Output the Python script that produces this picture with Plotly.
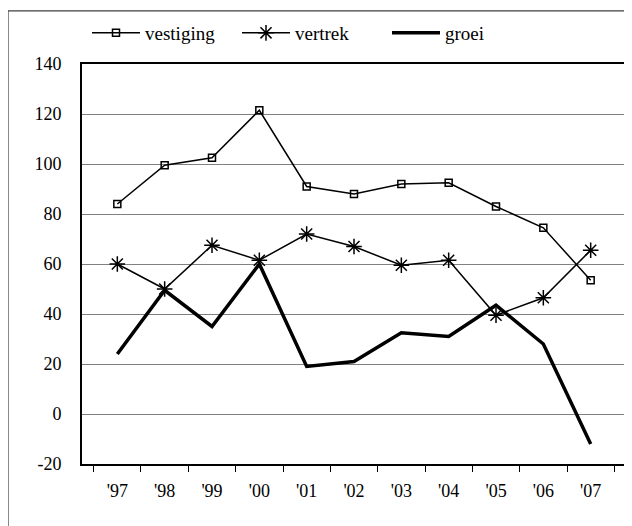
import plotly.graph_objects as go

years = ["'97", "'98", "'99", "'00", "'01", "'02", "'03", "'04", "'05", "'06", "'07"]
vestiging = [84, 99.5, 102.5, 121.5, 91, 88, 92, 92.5, 83, 74.5, 53.5]
vertrek = [60, 50, 67.5, 61.5, 72, 67, 59.5, 61.5, 39.5, 46.5, 65.5]
groei = [24, 49.5, 35, 60, 19, 21, 32.5, 31, 43.5, 28, -12]
y_ticks = [-20, 0, 20, 40, 60, 80, 100, 120, 140]
y_labels = ["-20", "0", "20", "40", "60", "80", "100", "120", "140"]

FONT = "Liberation Serif, Times New Roman, Times, Liberation Sans, Arial, sans-serif"

fig = go.Figure()
fig.add_trace(go.Scatter(
    x=years, y=vestiging, name="vestiging", mode="lines+markers",
    line=dict(color="black", width=1.5),
    marker=dict(symbol="square-open", size=7, color="black", line=dict(width=1.5)),
))
fig.add_trace(go.Scatter(
    x=years, y=vertrek, name="vertrek", mode="lines+markers",
    line=dict(color="black", width=1.5),
    marker=dict(symbol="asterisk-open", size=13, color="black", line=dict(width=1.5, color="black")),
))
fig.add_trace(go.Scatter(
    x=years, y=groei, name="groei", mode="lines",
    line=dict(color="black", width=3.5),
))

fig.update_layout(
    width=632, height=526,
    margin=dict(l=74, r=14, t=56, b=70, autoexpand=False),
    paper_bgcolor="white", plot_bgcolor="white",
    font=dict(family=FONT, size=18, color="black"),
    showlegend=True,
    legend=dict(
        orientation="h", xref="container", yref="container",
        x=0.125, xanchor="left", y=1 - 25 / 526, yanchor="middle",
        font=dict(family=FONT, size=19, color="black"),
        itemwidth=48, entrywidth=87, entrywidthmode="pixels",
        bgcolor="rgba(0,0,0,0)",
    ),
    xaxis=dict(
        type="category", tickson="boundaries", ticks="outside", ticklen=6,
        tickcolor="black", tickwidth=1, automargin=False,
        showline=True, linecolor="black", linewidth=2, mirror=True,
        showgrid=False, ticklabelstandoff=9,
        tickfont=dict(family=FONT, size=18),
    ),
    yaxis=dict(
        range=[-20, 140], tickvals=y_ticks, ticktext=y_labels, ticks="",
        showline=True, linecolor="black", linewidth=2, mirror=True,
        showgrid=True, gridcolor="#808080", gridwidth=1.2, zeroline=False,
        ticklabelstandoff=15, automargin=False,
        tickfont=dict(family=FONT, size=18),
    ),
    shapes=[dict(
        type="rect", xref="paper", yref="paper",
        x0=-0.136, x1=1.2, y0=-0.3, y1=1.1327,
        line=dict(color="#404040", width=1.2), layer="below",
    )],
)

fig.write_html("out.html")
